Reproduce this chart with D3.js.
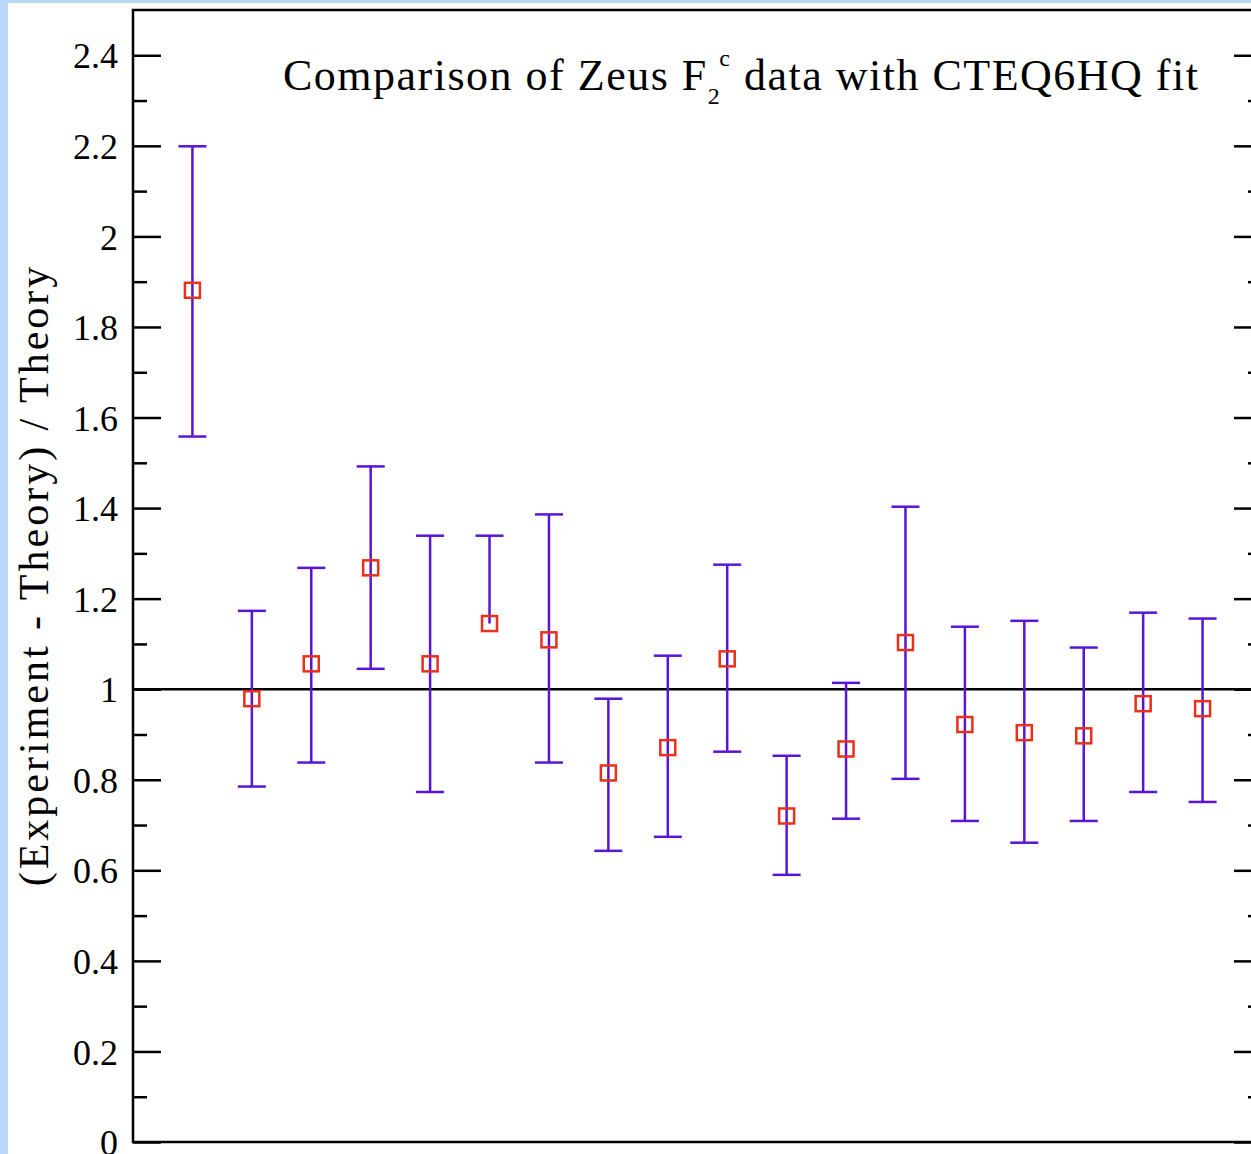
<!DOCTYPE html>
<html>
<head>
<meta charset="utf-8">
<script src="https://cdn.jsdelivr.net/npm/d3@7"></script>
<style>
  html, body { margin: 0; padding: 0; background: #b9d9fb; overflow: hidden; }
  svg { display: block; }
  text { font-family: "Liberation Serif", "DejaVu Serif", serif; fill: #000; }
</style>
</head>
<body>
<svg id="chart" width="1251" height="1154"></svg>
<script>
// data points, one per measurement bin
const points = [1, 2, 3, 4, 5, 6, 7, 8, 9, 10, 11, 12, 13, 14, 15, 16, 17, 18];
const values = [1.881, 0.979, 1.056, 1.268, 1.056, 1.145, 1.109, 0.815, 0.871, 1.067, 0.720, 0.868, 1.103, 0.922, 0.904, 0.897, 0.968, 0.957];
const upper  = [2.199, 1.173, 1.268, 1.492, 1.339, 1.339, 1.386, 0.979, 1.074, 1.275, 0.853, 1.014, 1.403, 1.138, 1.151, 1.092, 1.169, 1.156];
const lower  = [1.558, 0.785, 0.838, 1.045, 0.773, null,  0.838, 0.643, 0.674, 0.862, 0.590, 0.714, 0.802, 0.709, 0.661, 0.709, 0.773, 0.751];
const yTicks = [0, 0.2, 0.4, 0.6, 0.8, 1, 1.2, 1.4, 1.6, 1.8, 2, 2.2, 2.4];
const yTickLabels = ["0", "0.2", "0.4", "0.6", "0.8", "1", "1.2", "1.4", "1.6", "1.8", "2", "2.2", "2.4"];
const yMinorTicks = [0.1, 0.3, 0.5, 0.7, 0.9, 1.1, 1.3, 1.5, 1.7, 1.9, 2.1, 2.3];

const W = 1251, H = 1154;
const frame = { left: 133, top: 10, right: 1262, bottom: 1142 };
const barColor = '#5a14d8';
const markColor = '#e8301a';

const svg = d3.select('#chart');

// white page panel over the blue backdrop
svg.append('rect')
  .attr('x', 8).attr('y', 3)
  .attr('width', W - 8).attr('height', H - 3)
  .attr('fill', '#fff');

const x = d3.scaleLinear().domain([0, 19]).range([frame.left, frame.right]);
const y = d3.scaleLinear().domain([0, 2.5]).range([frame.bottom, frame.top]);

// left axis: major + minor ticks
const left = svg.append('g').attr('transform', `translate(${frame.left},0)`);
left.call(d3.axisLeft(y).tickValues(yMinorTicks).tickSize(-14).tickFormat(''));
left.append('g').call(d3.axisLeft(y).tickValues(yTicks).tickSize(-28)
  .tickFormat((d, i) => yTickLabels[i]));
left.selectAll('.domain').remove();
left.selectAll('line').attr('stroke', '#000').attr('stroke-width', 2.5);
left.selectAll('text')
  .attr('x', -15)
  .attr('dy', '0.35em')
  .style('font-size', '36px')
  .style('font-family', '"Liberation Serif", serif');

// right axis
const right = svg.append('g').attr('transform', `translate(${frame.right},0)`);
right.call(d3.axisRight(y).tickValues(yMinorTicks).tickSize(-14).tickFormat(''));
right.append('g').call(d3.axisRight(y).tickValues(yTicks).tickSize(-28).tickFormat(''));
right.selectAll('.domain').remove();
right.selectAll('line').attr('stroke', '#000').attr('stroke-width', 2.5);

// frame
svg.append('rect')
  .attr('x', frame.left).attr('y', frame.top)
  .attr('width', frame.right - frame.left).attr('height', frame.bottom - frame.top)
  .attr('fill', 'none').attr('stroke', '#000').attr('stroke-width', 2.5);

// reference line at 1
svg.append('line')
  .attr('x1', frame.left).attr('x2', frame.right)
  .attr('y1', y(1)).attr('y2', y(1))
  .attr('stroke', '#000').attr('stroke-width', 2.5);

const data = points.map((p, i) => ({ p, v: values[i], hi: upper[i], lo: lower[i] }));

// error bars
const bars = svg.append('g').attr('stroke', barColor).attr('stroke-width', 2.5).attr('fill', 'none');
bars.selectAll('line.stem').data(data).join('line').attr('class', 'stem')
  .attr('x1', d => x(d.p)).attr('x2', d => x(d.p))
  .attr('y1', d => y(d.hi)).attr('y2', d => y(d.lo == null ? d.v : d.lo));
bars.selectAll('line.cap-hi').data(data).join('line').attr('class', 'cap-hi')
  .attr('x1', d => x(d.p) - 14).attr('x2', d => x(d.p) + 14)
  .attr('y1', d => y(d.hi)).attr('y2', d => y(d.hi));
bars.selectAll('line.cap-lo').data(data.filter(d => d.lo != null)).join('line').attr('class', 'cap-lo')
  .attr('x1', d => x(d.p) - 14).attr('x2', d => x(d.p) + 14)
  .attr('y1', d => y(d.lo)).attr('y2', d => y(d.lo));

// square markers
svg.append('g').selectAll('rect').data(data).join('rect')
  .attr('x', d => x(d.p) - 7.5).attr('y', d => y(d.v) - 7.5)
  .attr('width', 15).attr('height', 15)
  .attr('fill', 'none').attr('stroke', markColor).attr('stroke-width', 2.5);

// title
const title = svg.append('text')
  .attr('x', 283).attr('y', 90)
  .style('font-size', '44px')
  .style('letter-spacing', '1.5px');
title.append('tspan').text('Comparison of Zeus F');
title.append('tspan').attr('dy', 14).style('font-size', '24px').text('2');
title.append('tspan').attr('dy', -38).attr('dx', -2).style('font-size', '24px').text('c');
title.append('tspan').attr('dy', 24).text(' data with CTEQ6HQ fit');

// y axis label
svg.append('text')
  .attr('transform', `translate(48,${(265 + 885) / 2}) rotate(-90)`)
  .attr('text-anchor', 'middle')
  .style('font-size', '42px')
  .style('letter-spacing', '3px')
  .text('(Experiment - Theory) / Theory');
</script>
</body>
</html>
